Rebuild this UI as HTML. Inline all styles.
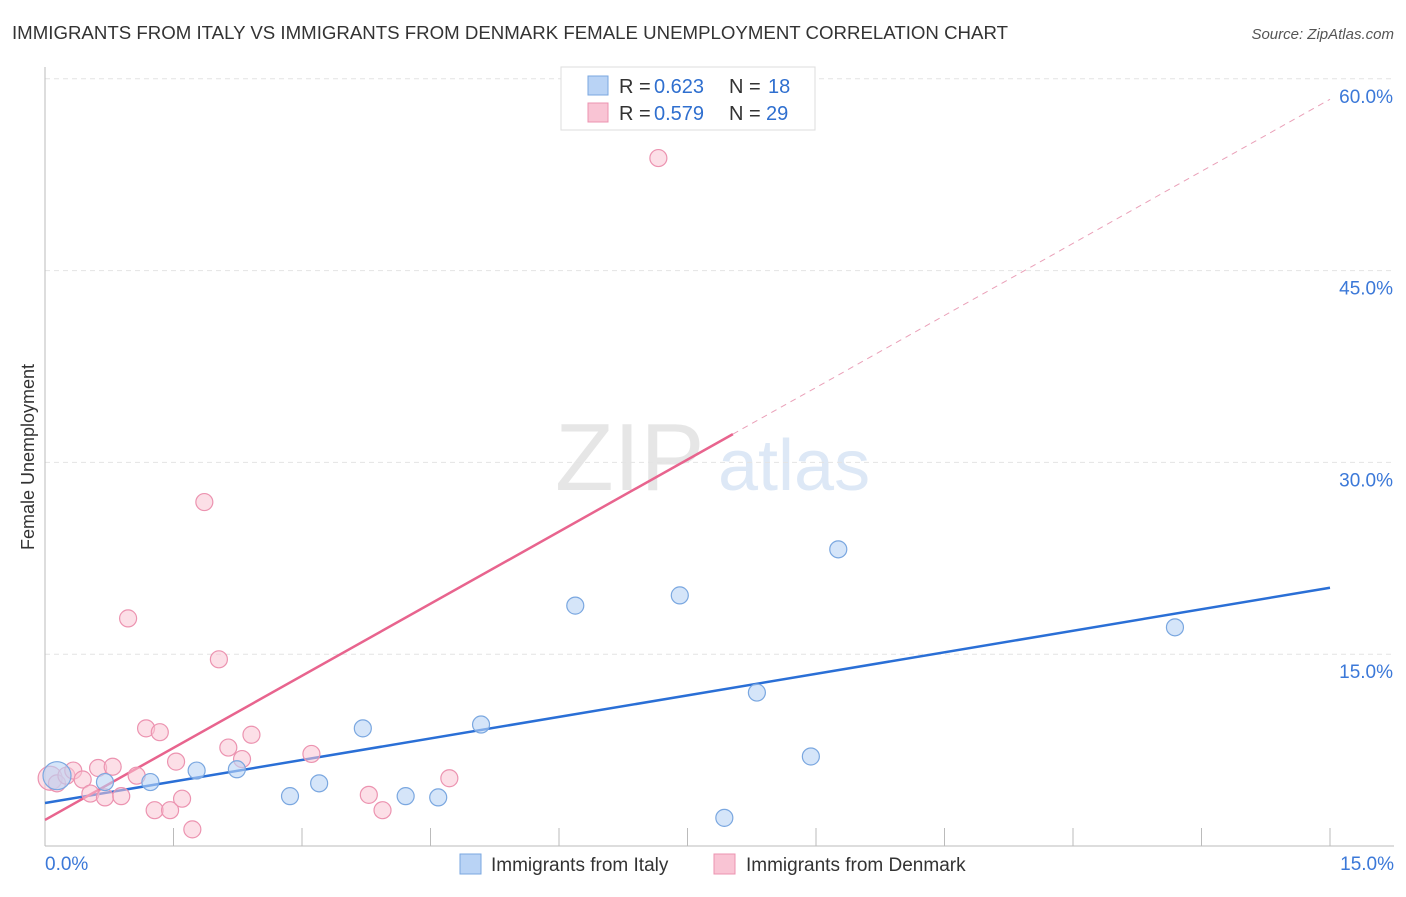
<!DOCTYPE html>
<html><head><meta charset="utf-8"><style>
body{margin:0;background:#fff;font-family:"Liberation Sans",sans-serif;}
svg text{font-family:"Liberation Sans",sans-serif;}
</style></head><body>
<svg id="chart" width="1406" height="892">
<text x="12" y="39" font-size="18" fill="#333" textLength="996" lengthAdjust="spacingAndGlyphs">IMMIGRANTS FROM ITALY VS IMMIGRANTS FROM DENMARK FEMALE UNEMPLOYMENT CORRELATION CHART</text>
<text x="1394" y="39" font-size="15" fill="#555" font-style="italic" text-anchor="end">Source: ZipAtlas.com</text>
<text transform="translate(34,457) rotate(-90)" font-size="18" fill="#333" text-anchor="middle">Female Unemployment</text>
<g><text x="555" y="490" font-size="96" fill="#e6e6e6" font-family="Liberation Serif">ZIP</text><text x="718" y="490" font-size="72" fill="#dde8f6">atlas</text></g>
<g id="grid"></g><g id="axes"></g><g id="lines"></g><g id="pts"></g>
<g>
<rect x="561" y="67" width="254" height="63" fill="#fff" stroke="#ddd"/>
<rect x="588" y="76" width="20" height="19" fill="#b9d3f5" stroke="#7aa7e0"/>
<rect x="588" y="103" width="20" height="19" fill="#f9c4d4" stroke="#ec93b0"/>
<g font-size="20">
<text x="619" y="93" fill="#333">R =</text><text x="654" y="93" fill="#2f6fcf">0.623</text><text x="729" y="93" fill="#333">N =</text><text x="768" y="93" fill="#2f6fcf">18</text></g>
<g font-size="20">
<text x="619" y="120" fill="#333">R =</text><text x="654" y="120" fill="#2f6fcf">0.579</text><text x="729" y="120" fill="#333">N =</text><text x="766" y="120" fill="#2f6fcf">29</text></g>
</g>
<g>
<rect x="460" y="854" width="21" height="20" fill="#b9d3f5" stroke="#7aa7e0"/>
<text x="491" y="871" font-size="19" fill="#333">Immigrants from Italy</text>
<rect x="714" y="854" width="21" height="20" fill="#f9c4d4" stroke="#ec93b0"/>
<text x="746" y="871" font-size="19" fill="#333">Immigrants from Denmark</text>
</g>
</svg>
<script>
const yTicks=[15,30,45,60];
const yTickLabels=["15.0%","30.0%","45.0%","60.0%"];
const xTickLabels=["0.0%","15.0%"];
const italyX=[0.14,0.70,1.23,1.77,2.24,2.86,3.20,3.71,4.21,4.59,5.09,6.19,7.41,7.93,8.31,8.94,9.26,13.19];
const italyY=[5.5,5.0,5.0,5.9,6.0,3.9,4.9,9.2,3.9,3.8,9.5,18.8,19.6,2.2,12.0,7.0,23.2,17.1];
const denX=[0.06,0.14,0.25,0.33,0.44,0.53,0.62,0.70,0.79,0.89,0.97,1.07,1.18,1.28,1.34,1.46,1.53,1.60,1.72,1.86,2.03,2.14,2.30,2.41,3.11,3.78,3.94,4.72,7.16];
const denY=[5.3,4.9,5.5,5.9,5.2,4.1,6.1,3.8,6.2,3.9,17.8,5.5,9.2,2.8,8.9,2.8,6.6,3.7,1.3,26.9,14.6,7.7,6.8,8.7,7.2,4.0,2.8,5.3,53.8];
const italyTrend=[3.36,20.2];
const denTrend=[2.04,58.4];
const denSolidEnd=8.03;
const X=v=>45+v/15*1285, Y=v=>846-v/15*191.8;
const NS="http://www.w3.org/2000/svg";
function mk(tag,attrs,parent){const e=document.createElementNS(NS,tag);for(const k in attrs)e.setAttribute(k,attrs[k]);document.getElementById(parent).appendChild(e);return e;}
yTicks.forEach((t,i)=>{
 const g=mk('line',{x1:45,x2:1394,y1:Y(t),y2:Y(t),stroke:'#e4e4e4','stroke-dasharray':'5,4'},'grid');
 
 
 const l=mk('text',{x:1393,y:Y(t)+24,'font-size':19,fill:'#3b78d8','text-anchor':'end'},'grid');
 l.textContent=yTickLabels[i];
 
 
});
const xa=mk('line',{x1:45,x2:1394,y1:846,y2:846,stroke:'#bbb'},'axes');


const ya=mk('line',{x1:45,x2:45,y1:67,y2:846,stroke:'#bbb'},'axes');


for(let i=0;i<=10;i++){const t=mk('line',{x1:X(i*1.5),x2:X(i*1.5),y1:828,y2:846,stroke:'#bbb'},'axes');
 
 }
[[0,'start',45],[15,'end',1394]].forEach((a,i)=>{const t=mk('text',{x:a[2],y:870,'font-size':19,fill:'#3b78d8','text-anchor':a[1]},'axes');t.textContent=xTickLabels[i];
 
 });
const slope=(denTrend[1]-denTrend[0])/15;
let l1=mk('line',{x1:X(0),y1:Y(italyTrend[0]),x2:X(15),y2:Y(italyTrend[1]),stroke:'#2a6fd6','stroke-width':2.5},'lines');


let l2=mk('line',{x1:X(0),y1:Y(denTrend[0]),x2:X(denSolidEnd),y2:Y(denTrend[0]+slope*denSolidEnd),stroke:'#e8648e','stroke-width':2.5},'lines');


let l3=mk('line',{x1:X(denSolidEnd),y1:Y(denTrend[0]+slope*denSolidEnd),x2:X(15),y2:Y(denTrend[1]),stroke:'#eaa0b8','stroke-width':1,'stroke-dasharray':'6,5'},'lines');


denX.forEach((x,i)=>{const c=mk('circle',{cx:X(x),cy:Y(denY[i]),r:i==0?12:8.5,fill:'rgba(249,196,212,0.55)',stroke:'#ec93b0','stroke-width':1.2},'pts');
 
 });
italyX.forEach((x,i)=>{const c=mk('circle',{cx:X(x),cy:Y(italyY[i]),r:i==0?14:8.5,fill:'rgba(185,211,245,0.6)',stroke:'#7aa7e0','stroke-width':1.2},'pts');
 
 });
</script>
</body></html>
